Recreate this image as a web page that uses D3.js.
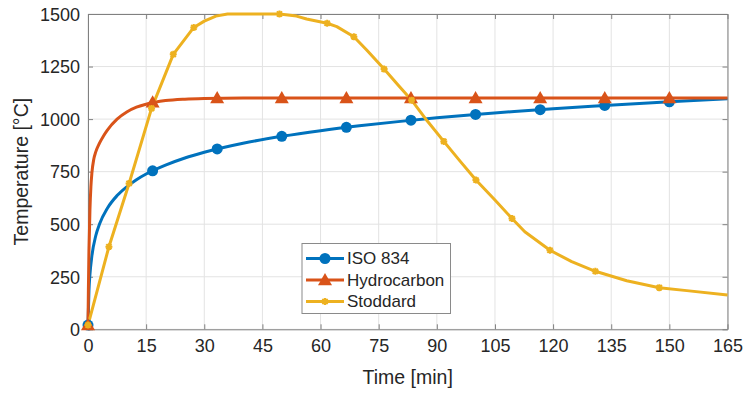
<!DOCTYPE html>
<html><head><meta charset="utf-8">
<script src="https://cdn.jsdelivr.net/npm/d3@7"></script>
<style>html,body{margin:0;padding:0;background:#fff}svg{display:block}text{font-family:"Liberation Sans",Arial,sans-serif;fill:#262626}</style>
</head><body>
<script>
// ---- data ----
const isoT = [0,0.25,0.5,1,2,3,5,7.5,10,12.5,15,20,25,30,40,50,60,70,80,90,100,110,120,130,140,150,160,165];
const isoV = [20,185,261,349,445,502,576,636,678,712,739,781,815,842,885,918,945,968,988,1006,1022,1036,1049,1061,1072,1082,1092,1097];
const markT = [0,16.67,33.33,50,66.67,83.33,100,116.67,133.33,150];
const isoMarkV = [20,754,858,918,961,995,1022,1045,1065,1082];

const hcT = [0,0.1,0.25,0.5,0.75,1,1.5,2,3,4,5,7.5,10,12.5,15,20,25,30,40,50,165];
const hcV = [20,187,373,568,679,743,810,844,887,920,948,1000,1034,1057,1071,1088,1095,1098,1100,1100,1100];
const hcMarkV = [20,1080,1100,1100,1100,1100,1100,1100,1100,1100];

const stT = [0,5.4,10.6,16.4,22,27.3,30,33,36,42,49.4,53.8,56.4,61.7,64.2,68.6,71.9,76.4,80,83.5,87.5,91.8,96,100.1,105,109.4,112.7,119.2,124.8,130.9,139,147.4,154.5,165];
const stV = [20,393,694,1051,1308,1436,1466,1490,1500,1500,1500,1490,1476,1456,1440,1392,1329,1238,1162,1090,992,894,800,710,615,527,464,376,322,276,231,198,184,163];
const stMarkT = [0,5.4,10.6,16.4,22,27.3,49.4,61.7,68.6,76.4,83.5,91.8,100.1,109.4,119.2,130.9,147.4];

const xTicks = [0,15,30,45,60,75,90,105,120,135,150,165];
const yTicks = [0,250,500,750,1000,1250,1500];
const seriesNames = ["ISO 834","Hydrocarbon","Stoddard"];
const colors = ["#0072BD","#D95319","#EDB120"];

// ---- layout ----
const W = 745, H = 394;
const L = 88, R = 727.5, T = 14, B = 329.3;
const x = d3.scaleLinear().domain([0,165]).range([L,R]);
const y = d3.scaleLinear().domain([0,1500]).range([B,T]);

const svg = d3.select("body").append("svg").attr("width",W).attr("height",H);

// grid
const g = svg.append("g");
g.selectAll(".gx").data(xTicks).join("line")
  .attr("x1",d=>x(d)).attr("x2",d=>x(d)).attr("y1",T).attr("y2",B)
  .attr("stroke","#e3e3e3").attr("stroke-width",1);
g.selectAll(".gy").data(yTicks).join("line")
  .attr("y1",d=>y(d)).attr("y2",d=>y(d)).attr("x1",L).attr("x2",R)
  .attr("stroke","#e3e3e3").attr("stroke-width",1);

// axes
const axCol = "#808080";
const fmt = d3.format("d");
const xb = svg.append("g").attr("transform",`translate(0,${B})`)
  .call(d3.axisBottom(x).tickValues(xTicks).tickFormat(fmt).tickSizeInner(-5).tickSizeOuter(0).tickPadding(10));
const xt = svg.append("g").attr("transform",`translate(0,${T})`)
  .call(d3.axisTop(x).tickValues(xTicks).tickSizeInner(-5).tickSizeOuter(0).tickFormat(""));
const yl = svg.append("g").attr("transform",`translate(${L},0)`)
  .call(d3.axisLeft(y).tickValues(yTicks).tickFormat(fmt).tickSizeInner(-5).tickSizeOuter(0).tickPadding(8));
const yr = svg.append("g").attr("transform",`translate(${R},0)`)
  .call(d3.axisRight(y).tickValues(yTicks).tickSizeInner(-5).tickSizeOuter(0).tickFormat(""));
[xb,xt,yl,yr].forEach(a=>{
  a.selectAll("path").attr("stroke",axCol).attr("stroke-width",1);
  a.selectAll("line").attr("stroke",axCol);
  a.selectAll("text").attr("font-size",18).attr("fill","#262626")
   .attr("font-family",'"Liberation Sans",Arial,sans-serif');
});
yl.selectAll("text").attr("dy","0.35em");

// labels
svg.append("text").attr("x",(L+R)/2).attr("y",384).attr("text-anchor","middle")
  .attr("font-size",19.5).text("Time [min]");
svg.append("text").attr("transform",`translate(28,${(T+B)/2}) rotate(-90)`)
  .attr("text-anchor","middle").attr("font-size",19.5).text("Temperature [°C]");

const plot = svg.append("g");
function drawLine(ts, vs, col, curve){
  const pts = ts.map((t,i)=>[t,vs[i]]);
  plot.append("path").datum(pts)
    .attr("d",d3.line().x(d=>x(d[0])).y(d=>y(d[1])).curve(curve))
    .attr("fill","none").attr("stroke",col).attr("stroke-width",3).attr("stroke-linejoin","round");
}
drawLine(isoT,isoV,colors[0],d3.curveMonotoneX);
drawLine(hcT,hcV,colors[1],d3.curveMonotoneX);
drawLine(stT,stV,colors[2],d3.curveLinear);

function circle(gr,cx,cy,col){ gr.append("circle").attr("cx",cx).attr("cy",cy).attr("r",5.5).attr("fill",col); }
function tri(gr,cx,cy,col){
  const s=7;
  gr.append("path").attr("d",`M${cx},${cy-s}L${cx+s},${cy+s*0.75}L${cx-s},${cy+s*0.75}Z`).attr("fill",col);
}
function star(gr,cx,cy,col){
  const s=3.5, d=2.6;
  gr.append("path").attr("d",`M${cx-s},${cy}H${cx+s}M${cx},${cy-s}V${cy+s}M${cx-d},${cy-d}L${cx+d},${cy+d}M${cx-d},${cy+d}L${cx+d},${cy-d}`)
    .attr("stroke",col).attr("stroke-width",2).attr("fill","none");
}
markT.forEach((t,i)=>circle(plot,x(t),y(isoMarkV[i]),colors[0]));
markT.forEach((t,i)=>tri(plot,x(t),y(hcMarkV[i]),colors[1]));
stMarkT.forEach(t=>{const i=stT.indexOf(t); star(plot,x(t),y(stV[i]),colors[2]);});

// legend
const lg = svg.append("g");
lg.append("rect").attr("x",302).attr("y",243.5).attr("width",148.5).attr("height",70)
  .attr("fill","#fff").attr("stroke","#8a8a8a").attr("stroke-width",1);
const rowsY = [258.5,280,301.5];
const markers = [circle,tri,star];
seriesNames.forEach((n,i)=>{
  lg.append("line").attr("x1",306).attr("x2",344).attr("y1",rowsY[i]).attr("y2",rowsY[i])
    .attr("stroke",colors[i]).attr("stroke-width",3);
  markers[i](lg,325,rowsY[i],colors[i]);
  lg.append("text").attr("x",347).attr("y",rowsY[i]).attr("dy","0.35em")
    .attr("font-size",17).text(n);
});
</script>
</body></html>
